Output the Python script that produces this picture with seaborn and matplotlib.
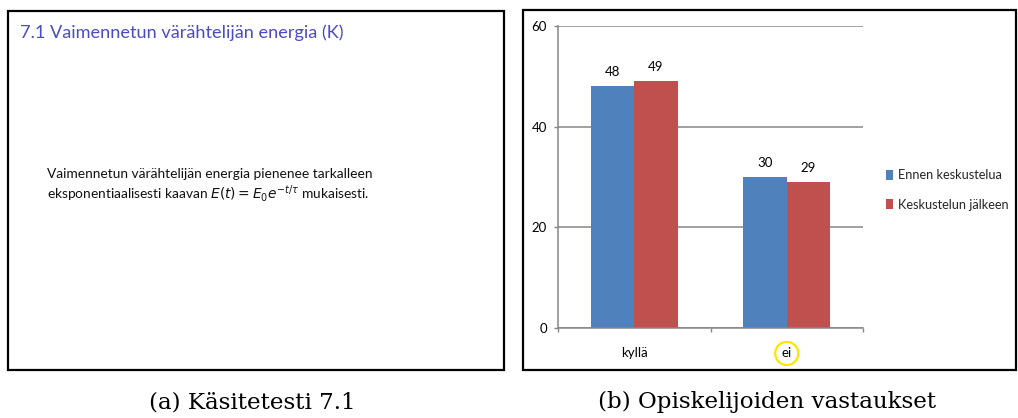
import matplotlib
matplotlib.use("Agg")
import matplotlib.pyplot as plt
from matplotlib.patches import Rectangle
import pandas as pd
import seaborn as sns

# Survey answers before and after the group discussion
categories = ["kyllä", "ei"]
series_names = ["Ennen keskustelua", "Keskustelun jälkeen"]
before_values = [48, 30]
after_values = [49, 29]
y_ticks = [0, 20, 40, 60]
bar_colors = ["#4F81BD", "#C0504D"]

slide_title = "7.1 Vaimennetun värähtelijän energia (K)"
slide_lines = [
    "Vaimennetun värähtelijän energia pienenee tarkalleen",
    r"eksponentiaalisesti kaavan $E(t)=E_0e^{-t/\tau}$ mukaisesti.",
]
captions = ["(a) Käsitetesti 7.1", "(b) Opiskelijoiden vastaukset"]

df = pd.DataFrame({
    "vastaus": categories * 2,
    "vaihe": [series_names[0]] * len(categories) + [series_names[1]] * len(categories),
    "määrä": before_values + after_values,
})

sns.set_theme(style="white")
plt.rcParams["font.family"] = ["Lato", "DejaVu Sans"]
plt.rcParams["mathtext.fontset"] = "dejavusans"

W, H = 1018, 418
fig = plt.figure(figsize=(W / 100, H / 100), dpi=100)
fig.patch.set_facecolor("white")


def fx(px):
    return px / W


def fy(py):
    return 1 - py / H


# Frames around the two sub-figures
for (x0, y0, x1, y1) in [(8, 11, 504, 370), (523, 10, 1016, 370)]:
    fig.patches.append(Rectangle((fx(x0), fy(y1)), (x1 - x0) / W, (y1 - y0) / H,
                                 transform=fig.transFigure, fill=False,
                                 ec="black", lw=1.6))

# Left: the concept-test slide
fig.text(fx(20), fy(33), slide_title, color="#4B4BC4", fontsize=13.1,
         ha="left", va="center")
for i, line in enumerate(slide_lines):
    fig.text(fx(47), fy(174 + 19 * i), line, color="#111111", fontsize=9.9,
             ha="left", va="center")

# Right: bar chart of the answers
ax = fig.add_axes([fx(558), fy(328), (863 - 558) / W, (328 - 26) / H])
sns.barplot(data=df, x="vastaus", y="määrä", hue="vaihe", palette=bar_colors,
            width=0.57, saturation=1, linewidth=0, ax=ax)
ax.set_xlim(-0.5, 1.5)
ax.set_ylim(0, 60)
ax.set_yticks(y_ticks)
ax.set_xlabel("")
ax.set_ylabel("")
ax.yaxis.grid(True, color="#868686", lw=1.1)
ax.set_axisbelow(True)
for side in ["top", "right"]:
    ax.spines[side].set_visible(False)
for side in ["left", "bottom"]:
    ax.spines[side].set_color("#868686")
    ax.spines[side].set_linewidth(1.1)

ax.set_xticks([-0.5, 0.5, 1.5], minor=True)
ax.tick_params(axis="x", which="major", bottom=True, length=0, pad=14,
               labelsize=9.5, labelcolor="black")
ax.tick_params(axis="x", which="minor", bottom=True, length=3, width=1,
               color="#868686", direction="out")
ax.tick_params(axis="y", left=True, length=3, width=1, color="#868686",
               direction="out", pad=5, labelsize=9.5, labelcolor="black")

for container in ax.containers:
    ax.bar_label(container, fmt="%d", padding=6, fontsize=9.5, color="black")

# Highlight the "ei" answer with a yellow ring
ax.get_xticklabels()[1].set_bbox(dict(boxstyle="circle,pad=0.42", fc="none",
                                      ec="#FFE600", lw=1.6))

handles, labels = ax.get_legend_handles_labels()
ax.legend(handles, labels, loc="center left",
          bbox_to_anchor=(fx(886), fy(190)), bbox_transform=fig.transFigure,
          frameon=False, fontsize=9.2, handlelength=0.55, handleheight=0.8,
          handletextpad=0.35, labelspacing=1.35, borderpad=0, borderaxespad=0)

# Sub-figure captions
for cx, text in zip([252, 767], captions):
    fig.text(fx(cx), fy(402), text, family=["DejaVu Serif"],
             fontsize=16.6, ha="center", va="center", color="black")

fig.savefig("out.png", dpi=100)
